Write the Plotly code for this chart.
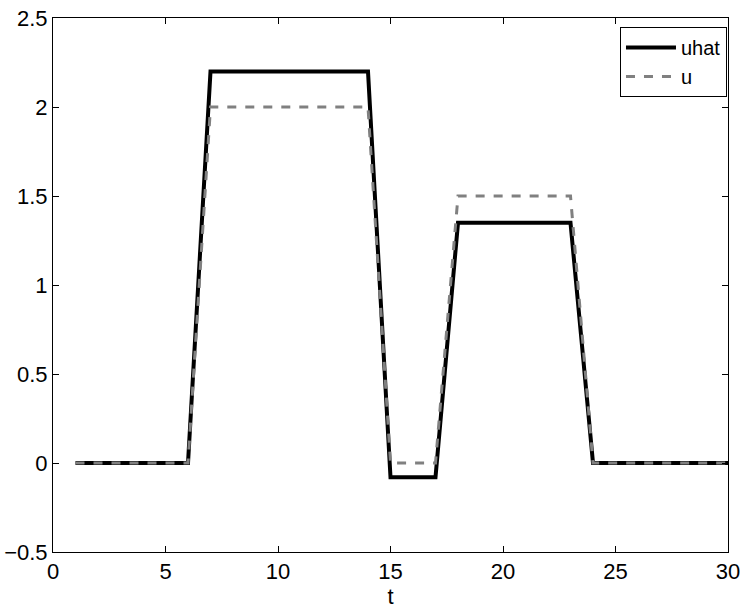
import plotly.graph_objects as go

t = list(range(1, 31))
uhat = [0]*6 + [2.2]*8 + [-0.08]*3 + [1.35]*6 + [0]*7
u = [0]*6 + [2.0]*8 + [0]*3 + [1.5]*6 + [0]*7

x_ticks = [0, 5, 10, 15, 20, 25, 30]
y_ticks = [-0.5, 0, 0.5, 1, 1.5, 2, 2.5]
y_labels = ["\u22120.5", "0", "0.5", "1", "1.5", "2", "2.5"]

fig = go.Figure()
fig.add_trace(go.Scatter(x=t, y=uhat, mode="lines", name="uhat",
                         line=dict(color="black", width=4)))
fig.add_trace(go.Scatter(x=t, y=u, mode="lines", name="u",
                         line=dict(color="#808080", width=3, dash="dash")))

axis_common = dict(showgrid=False, zeroline=False, showline=True, linecolor="black",
                   linewidth=1, mirror="allticks", ticks="inside", ticklen=6,
                   tickcolor="black", tickfont=dict(size=22, color="black"),
                   automargin=False, ticklabeloverflow="allow")

fig.update_layout(
    width=747, height=613,
    margin=dict(l=53, r=19, t=18, b=61),
    paper_bgcolor="white", plot_bgcolor="white",
    font=dict(family="Liberation Sans, Arial, sans-serif", color="black"),
    xaxis=dict(range=[0, 30], tickvals=x_ticks,
               title=dict(text="t", font=dict(size=22), standoff=0),
               **axis_common),
    yaxis=dict(range=[-0.5, 2.5], tickvals=y_ticks, ticktext=y_labels, **axis_common),
    legend=dict(x=0.9985, y=0.983, xanchor="right", yanchor="top",
                bgcolor="white", bordercolor="black", borderwidth=1,
                font=dict(size=20), tracegroupgap=0, itemwidth=50),
    showlegend=True,
)

fig.write_html("out.html", config={"displayModeBar": False},
               post_script="document.body.style.margin='0px';")
